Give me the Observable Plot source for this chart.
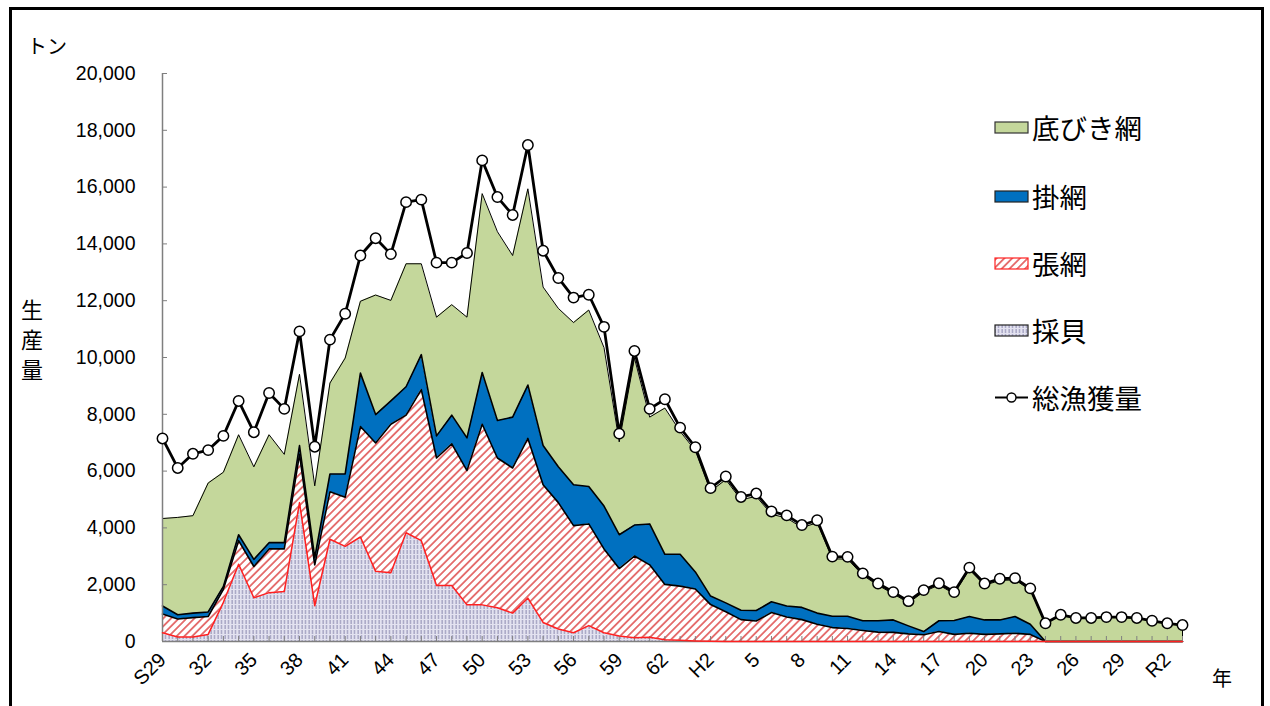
<!DOCTYPE html>
<html><head><meta charset="utf-8">
<script src="https://cdn.jsdelivr.net/npm/d3@7"></script>
<script src="https://cdn.jsdelivr.net/npm/@observablehq/plot@0.6"></script>
<style>
html,body{margin:0;padding:0;background:#fff;}
#wrap{position:relative;width:1270px;height:706px;overflow:hidden;background:#fff;}
#frame{position:absolute;left:9px;top:7px;width:1249px;height:740px;border:3px solid #000;box-sizing:content-box;}
#chart{position:absolute;left:0;top:0;}
.jp{position:absolute;font-family:"Noto Sans CJK JP",sans-serif;color:#000;white-space:nowrap;}
.leg{position:absolute;left:994px;height:40px;display:flex;align-items:center;}
.leg span{font-family:"Noto Sans CJK JP",sans-serif;font-size:27.5px;margin-left:3px;line-height:40px;}
</style></head>
<body>
<div id="wrap">
<svg width="0" height="0" style="position:absolute">
 <defs>
  <pattern id="hatch" patternUnits="userSpaceOnUse" width="5.5" height="5.5" patternTransform="rotate(45)">
   <rect width="5.5" height="5.5" fill="#fff"/>
   <line x1="2.75" y1="0" x2="2.75" y2="5.5" stroke="#e46a6a" stroke-width="1.8"/>
  </pattern>
  <pattern id="shell" patternUnits="userSpaceOnUse" width="3.5" height="5">
   <rect width="3.5" height="5" fill="#e3e2f0"/>
   <rect x="0.5" y="0" width="1.2" height="4" fill="#9a98ba"/>
  </pattern>
 </defs>
</svg>
<div id="frame"></div>
<div id="chart"></div>
<div class="jp" style="left:27px;top:31px;font-size:20px;">トン</div>
<div class="jp" style="left:21px;top:293px;font-size:22px;line-height:30px;width:24px;white-space:normal;">生<br>産<br>量</div>
<div class="jp" style="left:1212px;top:663px;font-size:20px;">年</div>
<div id="legend"></div>
</div>
<script>
// ---- data (tons) ----
const years = [1954,1955,1956,1957,1958,1959,1960,1961,1962,1963,1964,1965,1966,1967,1968,1969,1970,1971,1972,1973,1974,1975,1976,1977,1978,1979,1980,1981,1982,1983,1984,1985,1986,1987,1988,1989,1990,1991,1992,1993,1994,1995,1996,1997,1998,1999,2000,2001,2002,2003,2004,2005,2006,2007,2008,2009,2010,2011,2012,2013,2014,2015,2016,2017,2018,2019,2020,2021];
const shellfish = [310,160,160,250,1380,2720,1540,1720,1760,4890,1260,3600,3350,3680,2470,2420,3830,3550,1970,1970,1290,1290,1190,1000,1530,670,440,310,560,310,190,130,150,60,40,20,10,0,0,0,0,0,0,0,0,0,0,0,0,0,0,0,0,0,0,0,0,0,0,0,0,0,0,0,0,0,0,0];
const setNet = [660,630,680,630,460,830,1100,1540,1500,1700,1440,1670,1730,3890,4520,5230,4140,5320,4490,4990,4730,6360,5270,5110,5620,4850,4450,3770,3580,2950,2380,2880,2550,1950,1910,1830,1290,1050,770,720,1020,860,770,610,490,460,390,330,320,270,240,350,250,290,250,270,290,250,0,0,0,0,0,0,0,0,0,0];
const gillNet = [280,150,160,160,100,210,250,220,220,310,250,630,820,1880,1000,820,1000,1230,780,1010,1150,1820,1320,1790,1880,1380,1260,1440,1320,1510,1190,1090,1440,1060,1120,600,300,310,330,370,380,390,430,390,400,430,340,400,440,280,110,380,490,590,510,490,590,360,0,0,0,0,0,0,0,0,0,0];
const trawl = [3080,3430,3430,4540,4020,3520,3260,3800,3110,2510,2530,3200,4080,2530,4210,3540,4330,3200,4180,3890,4250,6300,6650,5690,6910,5580,5580,5710,6210,5580,3270,5880,3760,5150,4330,4270,3690,4340,3890,4020,3080,3100,2810,3180,2020,2010,1600,1250,920,810,1400,1260,940,1650,1220,1390,1290,1200,640,940,830,830,860,860,830,730,640,580];
const total = [7150,6110,6610,6740,7240,8470,7370,8750,8190,10920,6860,10630,11540,13590,14200,13640,15470,15560,13340,13340,13680,16940,15650,15020,17480,13760,12800,12110,12210,11080,7320,10230,8190,8530,7530,6840,5400,5810,5090,5210,4580,4440,4100,4270,2990,2980,2400,2040,1740,1420,1810,2050,1740,2600,2040,2210,2230,1870,640,940,830,830,860,860,830,730,640,580];
const seriesNames = ["採貝","張網","掛網","底びき網"];
const totalName = "総漁獲量";
const yTicks = [0,2000,4000,6000,8000,10000,12000,14000,16000,18000,20000];
const xTickYears = [1954,1957,1960,1963,1966,1969,1972,1975,1978,1981,1984,1987,1990,1993,1996,1999,2002,2005,2008,2011,2014,2017,2020];
const xTickLabels = ["S29","32","35","38","41","44","47","50","53","56","59","62","H2","5","8","11","14","17","20","23","26","29","R2"];

// ---- build stacked table ----
const seriesValues = [shellfish, setNet, gillNet, trawl];
const stacked = {};
let base = years.map(() => 0);
seriesNames.forEach((name, k) => {
  const vals = seriesValues[k];
  stacked[name] = years.map((yr, i) => ({year: yr, y1: base[i], y2: base[i] + vals[i]}));
  base = base.map((b, i) => b + vals[i]);
});
const totalRows = years.map((yr, i) => ({year: yr, value: total[i]}));
const labelOf = new Map(xTickYears.map((y, i) => [y, xTickLabels[i]]));

const chart = Plot.plot({
  width: 1270, height: 706,
  marginLeft: 162, marginRight: 88, marginTop: 73, marginBottom: 65,
  x: {domain: [1954, 2021], label: null},
  y: {domain: [0, 20000], label: null},
  style: {fontFamily: '"Liberation Sans", Arial, sans-serif', fontSize: "19px", color: "#000", background: "transparent", overflow: "visible"},
  marks: [
    Plot.areaY(stacked["採貝"], {x: "year", y1: "y1", y2: "y2", fill: "url(#shell)"}),
    Plot.areaY(stacked["張網"], {x: "year", y1: "y1", y2: "y2", fill: "url(#hatch)"}),
    Plot.areaY(stacked["掛網"], {x: "year", y1: "y1", y2: "y2", fill: "#0070c0"}),
    Plot.areaY(stacked["底びき網"], {x: "year", y1: "y1", y2: "y2", fill: "#c4d79b"}),
    Plot.ruleX(stacked["底びき網"].slice(-1), {x: "year", y1: "y1", y2: "y2", stroke: "#000", strokeWidth: 1}),
    Plot.line(stacked["底びき網"], {x: "year", y: "y2", stroke: "#000", strokeWidth: 1}),
    Plot.line(stacked["掛網"], {x: "year", y: "y2", stroke: "#000", strokeWidth: 1.6}),
    Plot.line(stacked["張網"], {x: "year", y: "y2", stroke: "#000", strokeWidth: 1.6}),
    // axes
    Plot.ruleX([1954], {stroke: "#7f7f7f", strokeWidth: 1.5}),
    Plot.ruleY([0], {stroke: "#7f7f7f", strokeWidth: 1.5}),
    Plot.axisY({ticks: yTicks, tickSize: -5, tickFormat: () => "", stroke: "#7f7f7f"}),
    Plot.axisY({ticks: yTicks, tickSize: 0, tickPadding: 27, tickFormat: d3.format(","), fontSize: 19.5}),
    Plot.axisX({ticks: years, tickSize: -5, tickFormat: () => "", stroke: "#7f7f7f"}),
    Plot.axisX({ticks: xTickYears, tickSize: 0, tickPadding: 15, tickRotate: -45, tickFormat: d => labelOf.get(d), fontSize: 20}),
    Plot.line(stacked["採貝"], {x: "year", y: "y2", stroke: "#ff2020", strokeWidth: 1.5}),
    // total
    Plot.line(totalRows, {x: "year", y: "value", stroke: "#000", strokeWidth: 2.8}),
    Plot.dot(totalRows, {x: "year", y: "value", r: 5.2, fill: "#fff", stroke: "#000", strokeWidth: 1.5})
  ]
});
document.getElementById("chart").appendChild(chart);

// ---- legend ----
const legend = document.getElementById("legend");
const legendItems = [
  {name: "底びき網", sw: '<rect x="1" y="1" width="33" height="11" fill="#c4d79b" stroke="#333" stroke-width="1.2"/>'},
  {name: "掛網", sw: '<rect x="1" y="1" width="33" height="11" fill="#0070c0" stroke="#222" stroke-width="1.2"/>'},
  {name: "張網", sw: '<rect x="1" y="1" width="33" height="11" fill="url(#hatch)" stroke="#ff2020" stroke-width="1.2"/>'},
  {name: "採貝", sw: '<rect x="1" y="1" width="33" height="11" fill="url(#shell)" stroke="#222" stroke-width="1.2"/>'},
  {name: totalName, sw: '<line x1="1" y1="6.5" x2="34" y2="6.5" stroke="#000" stroke-width="2.2"/><circle cx="17.5" cy="6.5" r="4.5" fill="#fff" stroke="#000" stroke-width="1.4"/>'}
];
const centers = [127, 196, 263, 330, 397];
legendItems.forEach((it, i) => {
  const d = document.createElement("div");
  d.className = "leg";
  d.style.top = (centers[i] - 20) + "px";
  d.innerHTML = '<svg width="35" height="13" style="overflow:visible">' + it.sw + '</svg><span>' + it.name + '</span>';
  legend.appendChild(d);
});
</script>
</body></html>
